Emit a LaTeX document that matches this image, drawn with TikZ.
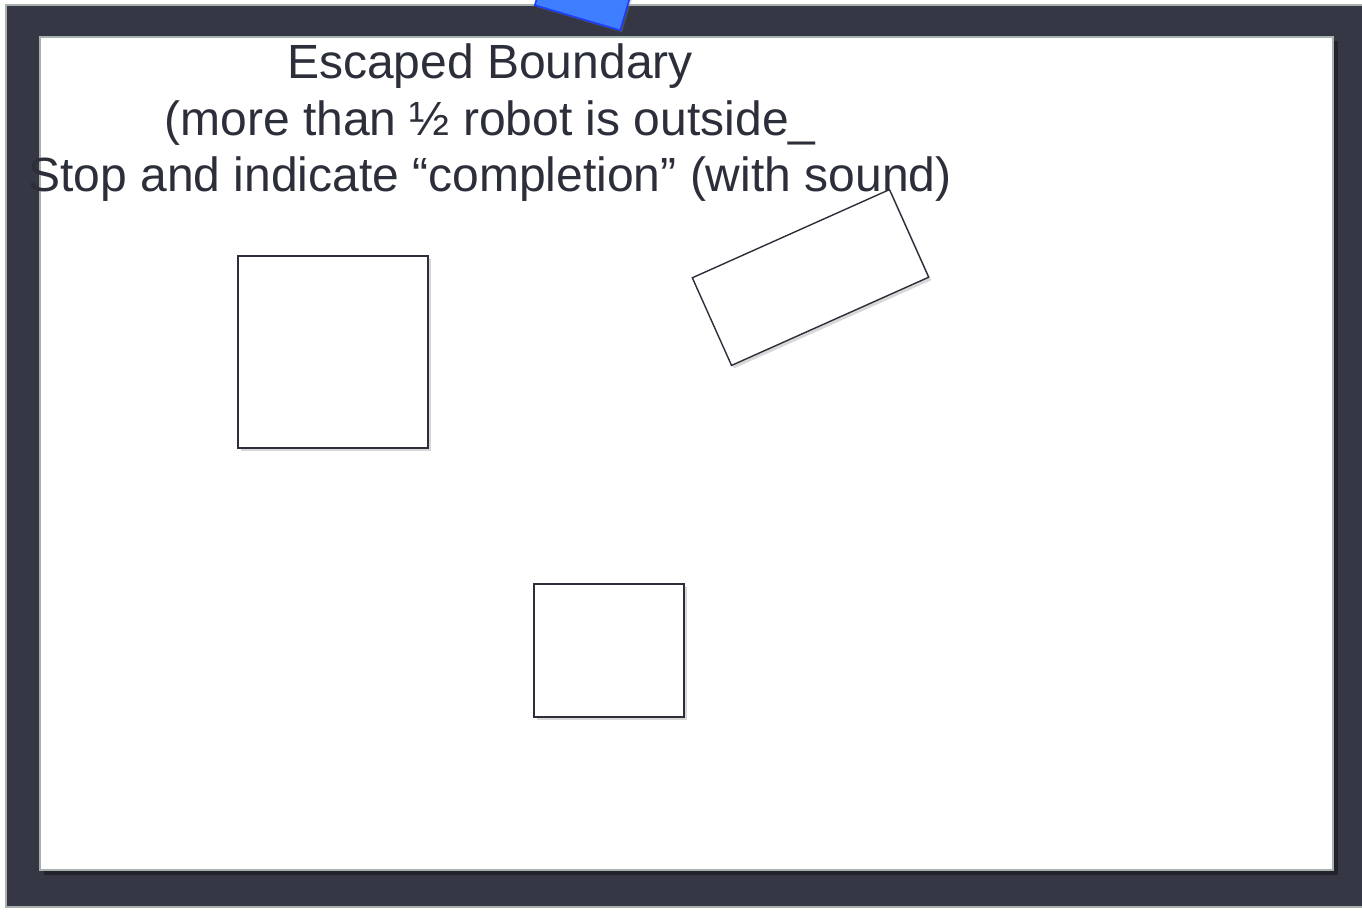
\documentclass[tikz,border=0pt]{standalone}
\usepackage{fontspec}
\setmainfont{Liberation Sans}
\usetikzlibrary{shadows}
\definecolor{frame}{HTML}{353744}
\definecolor{frameedge}{HTML}{A8B2AC}
\definecolor{ink}{HTML}{2C2F3A}
\definecolor{robotfill}{HTML}{3F7EFF}
\definecolor{robotedge}{HTML}{1B3DFF}

\begin{document}
\begin{tikzpicture}[
  x=1pt, y=-1pt,
  obstacle/.style={rectangle, draw=ink, line width=1.4pt, fill=white, inner sep=0pt,
                   drop shadow={shadow xshift=2.5pt, shadow yshift=-3pt, opacity=0.3}},
  robot/.style={rectangle, draw=robotedge, line width=1.6pt, fill=robotfill, inner sep=0pt,
                drop shadow={shadow xshift=2pt, shadow yshift=-2pt, opacity=0.3}},
  caption/.style={font=\fontsize{48}{56.5}\selectfont, text=ink, align=center, inner sep=0pt}
]
  \useasboundingbox (0,0) rectangle (1362,911);
  \fill[white] (0,0) rectangle (1362,911);

  % -- arena frame --
  \draw[frameedge, fill=frame, line width=1.5pt] (6,5) rectangle (1380,907);
  \fill[black, opacity=0.35] (44,41) rectangle (1338,875);
  \draw[frameedge, fill=white, line width=2pt] (40,37) rectangle (1333,870);

  % -- robot leaving the arena --
  \node[robot, minimum width=89pt, minimum height=60pt, rotate=-16.4] (bot) at (586,-11) {};

  % -- obstacles --
  \node[obstacle, minimum width=190pt, minimum height=192pt] (boxA) at (333,352) {};
  \node[obstacle, minimum width=216pt, minimum height=96pt, rotate=24.1] (boxB) at (810.5,277.5) {};
  \node[obstacle, minimum width=150pt, minimum height=133pt] (boxC) at (609,650.5) {};

  % -- caption --
  \node[caption, anchor=north] (title) at (490,44)
    {Escaped Boundary\\(more than ½ robot is outside\_\\Stop and indicate “completion” (with sound)};
\end{tikzpicture}
\end{document}
